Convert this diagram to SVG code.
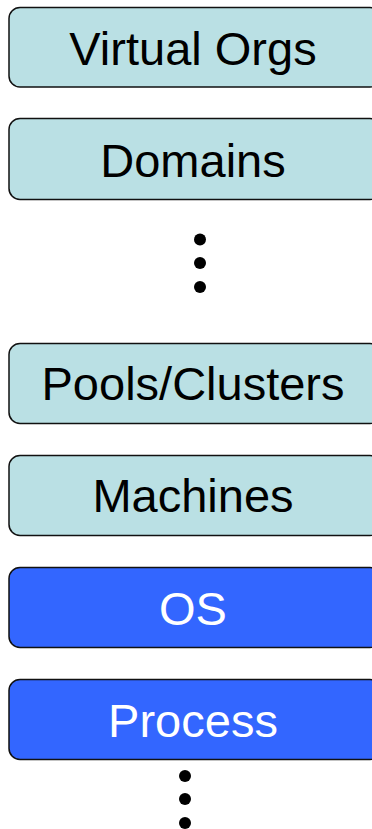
<svg xmlns="http://www.w3.org/2000/svg" width="372" height="829" viewBox="0 0 372 829">
  <style>
    .box { stroke: #111; stroke-width: 1.5; }
    .light { fill: #BAE0E4; }
    .dark { fill: #3366FF; }
    .lbl { font-family: "Liberation Sans", Arial, sans-serif; font-size: 47px; text-anchor: middle; }
    .lbl-dark { fill: #000; }
    .lbl-light { fill: #fff; }
    .dot { fill: #000; }
  </style>
  <g id="virtual-orgs">
    <rect class="box light" x="9" y="7.5" width="372" height="79.5" rx="11"/>
    <text class="lbl lbl-dark" x="193" y="65">Virtual Orgs</text>
  </g>
  <g id="domains">
    <rect class="box light" x="9" y="118.5" width="372" height="81" rx="11"/>
    <text class="lbl lbl-dark" x="193" y="177">Domains</text>
  </g>
  <g id="ellipsis-upper">
    <circle class="dot" cx="200" cy="239.5" r="6"/>
    <circle class="dot" cx="200" cy="263" r="6"/>
    <circle class="dot" cx="200" cy="287" r="6"/>
  </g>
  <g id="pools-clusters">
    <rect class="box light" x="9" y="343.5" width="372" height="80" rx="11"/>
    <text class="lbl lbl-dark" x="193" y="400">Pools/Clusters</text>
  </g>
  <g id="machines">
    <rect class="box light" x="9" y="455.5" width="372" height="80" rx="11"/>
    <text class="lbl lbl-dark" x="193" y="512">Machines</text>
  </g>
  <g id="os">
    <rect class="box dark" x="9" y="567.5" width="372" height="80" rx="11"/>
    <text class="lbl lbl-light" x="193" y="625">OS</text>
  </g>
  <g id="process">
    <rect class="box dark" x="9" y="679.5" width="372" height="80" rx="11"/>
    <text class="lbl lbl-light" x="193" y="737">Process</text>
  </g>
  <g id="ellipsis-lower">
    <circle class="dot" cx="185" cy="776" r="6"/>
    <circle class="dot" cx="185" cy="799" r="6"/>
    <circle class="dot" cx="185" cy="823" r="6"/>
  </g>
  <g id="connectors"/>
</svg>
